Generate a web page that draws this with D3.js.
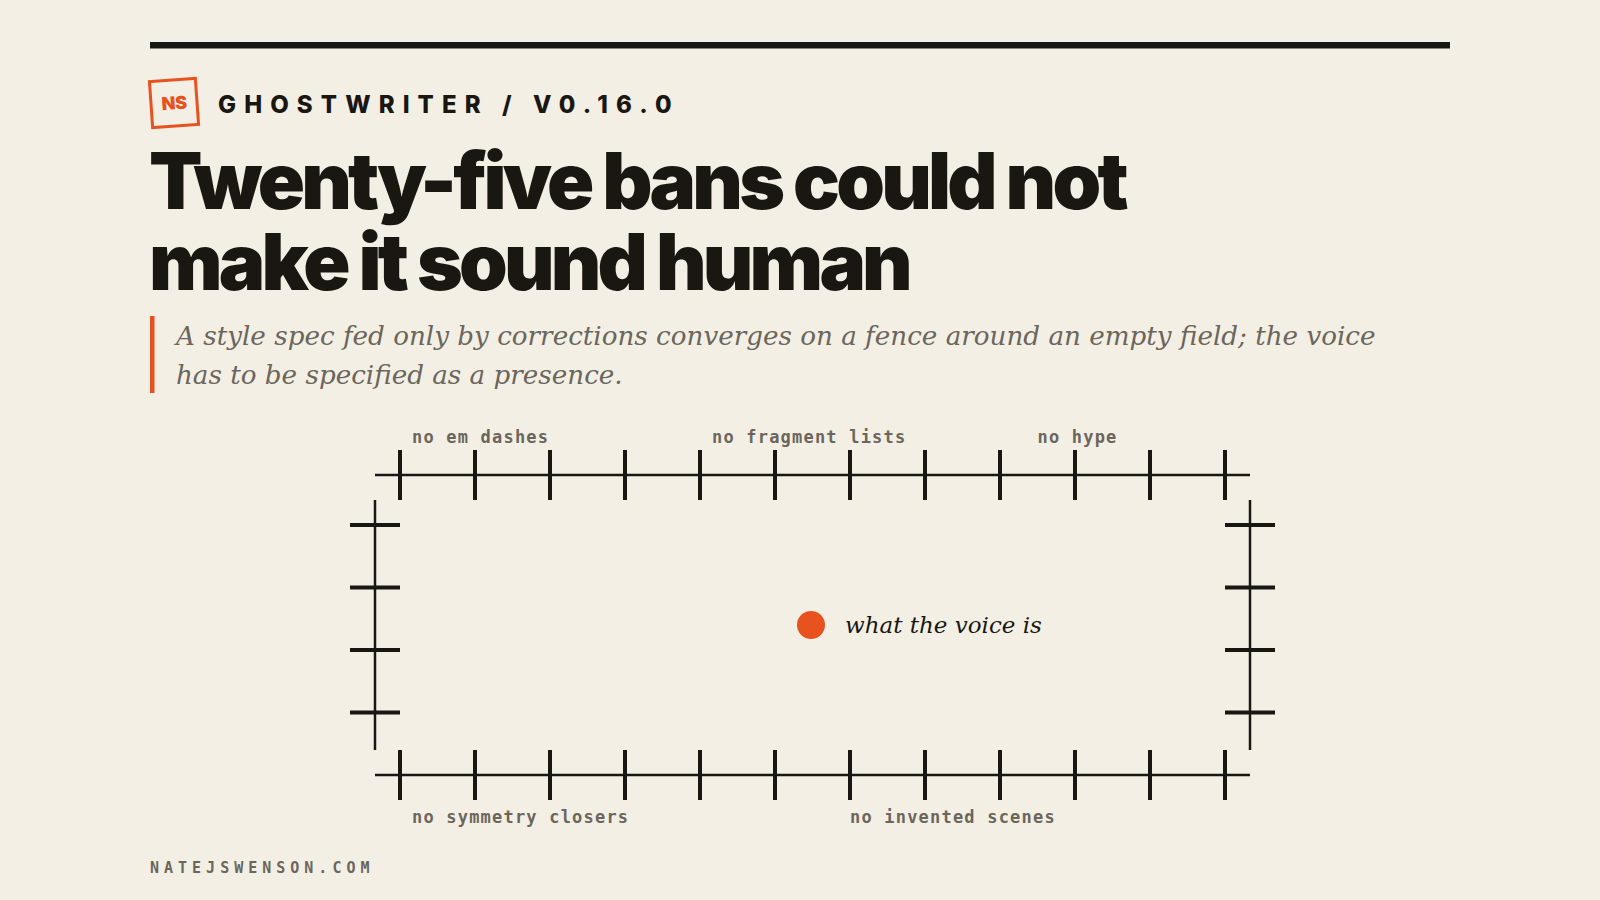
<!DOCTYPE html>
<html>
<head>
<meta charset="utf-8">
<script src="https://d3js.org/d3.v7.min.js"></script>
<style>
  /* page */
  html, body {
    margin: 0;
    padding: 0;
    background: #f4efe5;
  }

  svg { display: block; }

  .kicker {
    font-family: Inter, "Noto Sans", sans-serif;
    font-weight: 800;
    font-size: 24px;
    letter-spacing: 8.1px;
    fill: #1a1712;
  }

  .title {
    font-family: Inter, "Noto Sans", sans-serif;
    font-weight: 900;
    font-size: 78px;
    letter-spacing: -3.8px;
    fill: #1a1712;
  }

  .dek {
    font-family: "DejaVu Serif", "Liberation Serif", serif;
    font-style: italic;
    font-size: 26.2px;
    fill: #6b665c;
  }

  .fence-label {
    font-family: "DejaVu Sans Mono", "Liberation Mono", monospace;
    font-weight: 700;
    font-size: 17px;
    letter-spacing: 1.2px;
    fill: #6b665c;
  }

  .rail { stroke: #1a1712; stroke-width: 2.5px; }
  .post { stroke: #1a1712; stroke-width: 4px; }

  .voice {
    font-family: "DejaVu Serif", "Liberation Serif", serif;
    font-style: italic;
    font-size: 23px;
    fill: #1a1712;
  }

  .footer {
    font-family: "DejaVu Sans Mono", "Liberation Mono", monospace;
    font-weight: 700;
    font-size: 15px;
    letter-spacing: 5px;
    fill: #6b665c;
  }
</style>
</head>
<body>
<script>
  // data
  var kicker = "GHOSTWRITER / V0.16.0";
  var titleLines = ["Twenty-five bans could not", "make it sound human"];
  var dekLines = [
    "A style spec fed only by corrections converges on a fence around an empty field; the voice",
    "has to be specified as a presence."
  ];

  // fence posts, by index along each side
  var railPosts = [0, 1, 2, 3, 4, 5, 6, 7, 8, 9, 10, 11];
  var sidePosts = [0, 1, 2, 3];

  // labels sit at a post position (in post units)
  var topLabels = ["no em dashes", "no fragment lists", "no hype"];
  var topLabelAt = [0.16, 4.16, 8.5];
  var bottomLabels = ["no symmetry closers", "no invented scenes"];
  var bottomLabelAt = [0.16, 6.0];

  var centerLabel = "what the voice is";
  var footerText = "NATEJSWENSON.COM";

  var orange = "#e8521f",
      ink = "#1a1712";

  var W = 1600, H = 900;

  var svg = d3.select("body").append("svg")
      .attr("width", W)
      .attr("height", H);

  // top rule
  svg.append("rect")
      .attr("x", 150).attr("y", 42)
      .attr("width", 1300).attr("height", 6.5)
      .attr("fill", ink);

  // logo
  var logo = svg.append("g")
      .attr("transform", "translate(174,103) rotate(-4)");
  logo.append("rect")
      .attr("x", -23).attr("y", -23)
      .attr("width", 46).attr("height", 46)
      .attr("fill", "none")
      .attr("stroke", orange)
      .attr("stroke-width", 3);
  logo.append("text")
      .attr("text-anchor", "middle")
      .attr("y", 6.5)
      .attr("font-family", "Inter, sans-serif")
      .attr("font-weight", 900)
      .attr("font-size", 18)
      .attr("letter-spacing", -0.5)
      .attr("fill", orange)
      .text("NS");

  svg.append("text")
      .attr("class", "kicker")
      .attr("x", 218).attr("y", 113)
      .text(kicker);

  svg.selectAll(".title")
      .data(titleLines)
    .enter().append("text")
      .attr("class", "title")
      .attr("x", 149)
      .attr("y", (d, i) => 209 + i * 81)
      .text(d => d);

  // dek with orange bar
  svg.append("rect")
      .attr("x", 150).attr("y", 316)
      .attr("width", 4.5).attr("height", 77)
      .attr("fill", orange);

  svg.selectAll(".dek")
      .data(dekLines)
    .enter().append("text")
      .attr("class", "dek")
      .attr("x", 176)
      .attr("y", (d, i) => 345 + i * 39)
      .text(d => d);

  // fence
  var x = d3.scaleLinear()
      .domain([0, 11])
      .range([400, 1225]);

  var ySide = d3.scaleLinear()
      .domain([0, 4])
      .range([525, 775]);

  var railTop = 475, railBottom = 775,
      sideLeft = 375, sideRight = 1250,
      half = 25;

  // (not "fence": window.fence is a read-only browser global)
  var fenceG = svg.append("g").attr("class", "fence");

  // horizontal rails
  fenceG.selectAll("line.hrail")
      .data([railTop, railBottom])
    .enter().append("line")
      .attr("class", "rail hrail")
      .attr("x1", sideLeft).attr("x2", sideRight)
      .attr("y1", d => d).attr("y2", d => d);

  // vertical rails
  fenceG.selectAll("line.vrail")
      .data([sideLeft, sideRight])
    .enter().append("line")
      .attr("class", "rail vrail")
      .attr("x1", d => d).attr("x2", d => d)
      .attr("y1", railTop + half).attr("y2", railBottom - half);

  // posts on top and bottom rails
  var hPosts = [];
  [railTop, railBottom].forEach(function(ry) {
    railPosts.forEach(function(p) { hPosts.push({ry: ry, p: p}); });
  });

  fenceG.selectAll("line.hpost")
      .data(hPosts)
    .enter().append("line")
      .attr("class", "post hpost")
      .attr("x1", d => x(d.p)).attr("x2", d => x(d.p))
      .attr("y1", d => d.ry - half).attr("y2", d => d.ry + half);

  // posts on the side rails
  var vPosts = [];
  [sideLeft, sideRight].forEach(function(sx) {
    sidePosts.forEach(function(p) { vPosts.push({sx: sx, p: p}); });
  });

  fenceG.selectAll("line.vpost")
      .data(vPosts)
    .enter().append("line")
      .attr("class", "post vpost")
      .attr("x1", d => d.sx - half).attr("x2", d => d.sx + half)
      .attr("y1", d => ySide(d.p)).attr("y2", d => ySide(d.p));

  fenceG.selectAll("text.top-label")
      .data(topLabels)
    .enter().append("text")
      .attr("class", "fence-label top-label")
      .attr("x", (d, i) => x(topLabelAt[i]))
      .attr("y", 443)
      .text(d => d);

  fenceG.selectAll("text.bottom-label")
      .data(bottomLabels)
    .enter().append("text")
      .attr("class", "fence-label bottom-label")
      .attr("x", (d, i) => x(bottomLabelAt[i]))
      .attr("y", 823)
      .text(d => d);

  // the thing in the middle
  svg.append("circle")
      .attr("cx", 811).attr("cy", 625)
      .attr("r", 14)
      .attr("fill", orange);

  svg.append("text")
      .attr("class", "voice")
      .attr("x", 845).attr("y", 633)
      .text(centerLabel);

  svg.append("text")
      .attr("class", "footer")
      .attr("x", 150).attr("y", 873)
      .text(footerText);
</script>
</body>
</html>
